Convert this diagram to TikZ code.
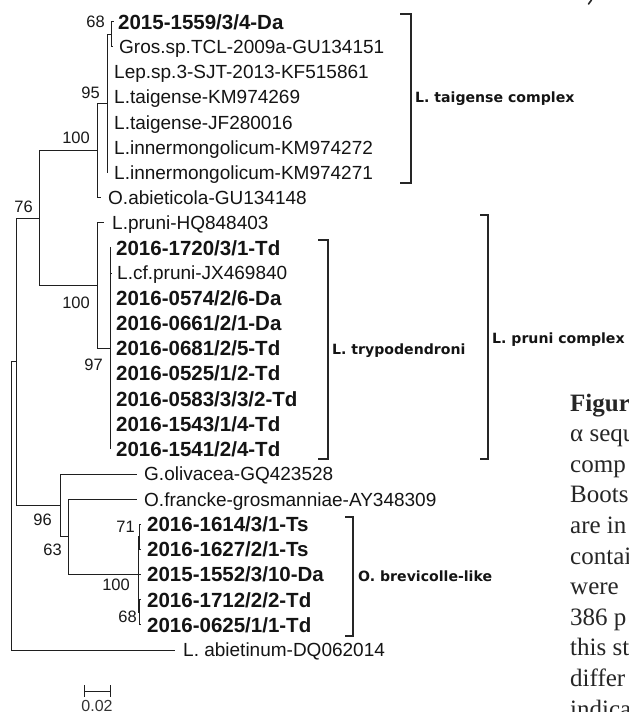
\documentclass[tikz,border=0pt]{standalone}
\usepackage{fontspec}
\setmainfont{Liberation Sans}
\newfontfamily\captionserif{Liberation Serif}
\newfontfamily\cladesans{DejaVu Sans}
\begin{document}
\begin{tikzpicture}[x=1pt,y=-1pt,
  twig/.style={line width=1pt, draw=black!88},
  cladebar/.style={line width=1.4pt, draw=black!85},
  taxon/.style={anchor=west, inner sep=0pt, text height=13.6pt, text depth=0pt,
    font=\fontsize{19}{19}\selectfont, text=black!92},
  taxonb/.style={anchor=west, inner sep=0pt, text height=14.7pt, text depth=0pt,
    font=\fontsize{20.5}{20.5}\selectfont\bfseries, text=black!92},
  bsval/.style={anchor=east, inner sep=0pt, text height=11.8pt, text depth=0pt,
    font=\fontsize{16.5}{16.5}\selectfont, text=black!90},
  cladename/.style={anchor=west, inner sep=0pt, text height=10.3pt, text depth=0pt,
    font=\cladesans\bfseries\fontsize{14.1}{14.1}\selectfont, text=black!92},
  captext/.style={anchor=base west, inner sep=0pt,
    font=\captionserif\fontsize{25}{25}\selectfont, text=black!85}
]
\useasboundingbox (0,0) rectangle (629,712);
\fill[white] (0,0) rectangle (629,712);

% ---------- internal nodes ----------
\coordinate (root)  at (11,505.9);
\coordinate (nA)    at (16,361.7);
\coordinate (n76)   at (39,218.0);
\coordinate (n100a) at (97,150.5);
\coordinate (n95)   at (107,103.4);
\coordinate (n68a)  at (111,34.25);
\coordinate (n100b) at (97,285.55);
\coordinate (n97)   at (110,348.4);
\coordinate (n96)   at (60,505.45);
\coordinate (n63)   at (68,536.9);
\coordinate (n100c) at (138,574.55);
\coordinate (n71)   at (139.5,536.85);
\coordinate (n68b)  at (139.5,612.25);

% ---------- branch ends of the taxa ----------
\coordinate (t0)  at (114,21.7);
\coordinate (t1)  at (113,46.8);
\coordinate (t2)  at (108,72.0);
\coordinate (t3)  at (108,97.1);
\coordinate (t4)  at (108,122.2);
\coordinate (t5)  at (108,147.4);
\coordinate (t6)  at (108,172.5);
\coordinate (t7)  at (101,197.6);
\coordinate (t8)  at (104,222.7);
\coordinate (t9)  at (111,247.9);
\coordinate (t10) at (112,273.0);
\coordinate (t11) at (111,298.1);
\coordinate (t12) at (111,323.3);
\coordinate (t13) at (111,348.4);
\coordinate (t14) at (111,373.5);
\coordinate (t15) at (111,398.7);
\coordinate (t16) at (111,423.8);
\coordinate (t17) at (111,448.9);
\coordinate (t18) at (137,474.0);
\coordinate (t19) at (137,499.2);
\coordinate (t20) at (141,524.3);
\coordinate (t21) at (141,549.4);
\coordinate (t22) at (141,574.6);
\coordinate (t23) at (141,599.7);
\coordinate (t24) at (141,624.8);
\coordinate (t25) at (175,650.0);

% ---------- taxon labels ----------
\node[taxonb] (l0)  at (118,21.7)  {2015-1559/3/4-Da};
\node[taxon]  (l1)  at (119,46.8)  {Gros.sp.TCL-2009a-GU134151};
\node[taxon]  (l2)  at (114,72.0)  {Lep.sp.3-SJT-2013-KF515861};
\node[taxon]  (l3)  at (114,97.1)  {L.taigense-KM974269};
\node[taxon]  (l4)  at (114,122.2) {L.taigense-JF280016};
\node[taxon]  (l5)  at (114,147.4) {L.innermongolicum-KM974272};
\node[taxon]  (l6)  at (114,172.5) {L.innermongolicum-KM974271};
\node[taxon]  (l7)  at (108,197.6) {O.abieticola-GU134148};
\node[taxon]  (l8)  at (112,222.7) {L.pruni-HQ848403};
\node[taxonb] (l9)  at (116,247.9) {2016-1720/3/1-Td};
\node[taxon]  (l10) at (117,273.0) {L.cf.pruni-JX469840};
\node[taxonb] (l11) at (116,298.1) {2016-0574/2/6-Da};
\node[taxonb] (l12) at (116,323.3) {2016-0661/2/1-Da};
\node[taxonb] (l13) at (116,348.4) {2016-0681/2/5-Td};
\node[taxonb] (l14) at (116,373.5) {2016-0525/1/2-Td};
\node[taxonb] (l15) at (116,398.7) {2016-0583/3/3/2-Td};
\node[taxonb] (l16) at (116,423.8) {2016-1543/1/4-Td};
\node[taxonb] (l17) at (116,448.9) {2016-1541/2/4-Td};
\node[taxon]  (l18) at (144,474.0) {G.olivacea-GQ423528};
\node[taxon]  (l19) at (144,499.2) {O.francke-grosmanniae-AY348309};
\node[taxonb] (l20) at (147,524.3) {2016-1614/3/1-Ts};
\node[taxonb] (l21) at (147,549.4) {2016-1627/2/1-Ts};
\node[taxonb] (l22) at (147,574.6) {2015-1552/3/10-Da};
\node[taxonb] (l23) at (147,599.7) {2016-1712/2/2-Td};
\node[taxonb] (l24) at (147,624.8) {2016-0625/1/1-Td};
\node[taxon]  (l25) at (183,650.0) {L. abietinum-DQ062014};

% ---------- branches ----------
\draw[twig] (root) |- (nA);
\draw[twig] (root) |- (t25);
\draw[twig] (nA) |- (n76);
\draw[twig] (nA) |- (n96);
\draw[twig] (n76) |- (n100a);
\draw[twig] (n76) |- (n100b);
\draw[twig] (n100a) |- (n95);
\draw[twig] (n100a) |- (t7);
\draw[twig] (n95) |- (n68a);
\draw[twig] (n68a) |- (t0);
\draw[twig] (n68a) |- (t1);
\foreach \k in {2,...,6} { \draw[twig] (n95) |- (t\k); }
\draw[twig] (n100b) |- (t8);
\draw[twig] (n100b) |- (n97);
\foreach \k in {9,...,17} { \draw[twig] (n97) |- (t\k); }
\draw[twig] (n96) |- (t18);
\draw[twig] (n96) |- (n63);
\draw[twig] (n63) |- (t19);
\draw[twig] (n63) |- (n100c);
\draw[twig] (n100c) |- (n71);
\draw[twig] (n100c) |- (t22);
\draw[twig] (n100c) |- (n68b);
\draw[twig] (n71) |- (t20);
\draw[twig] (n71) |- (t21);
\draw[twig] (n68b) |- (t23);
\draw[twig] (n68b) |- (t24);

% ---------- bootstrap values ----------
\node[bsval] (b68a)  at (105,22)  {68};
\node[bsval] (b95)   at (100,93)  {95};
\node[bsval] (b100a) at (90,138)  {100};
\node[bsval] (b76)   at (33,207)  {76};
\node[bsval] (b100b) at (90,303)  {100};
\node[bsval] (b97)   at (103,365) {97};
\node[bsval] (b96)   at (52,520)  {96};
\node[bsval] (b63)   at (62,550)  {63};
\node[bsval] (b71)   at (135,527) {71};
\node[bsval] (b100c) at (130,585) {100};
\node[bsval] (b68b)  at (137,617) {68};

% ---------- clade brackets ----------
\draw[cladebar] (400,14) -- (411,14) -- (411,183) -- (400,183);
\draw[cladebar] (318,240) -- (328,240) -- (328,459) -- (318,459);
\draw[cladebar] (480,215) -- (488,215) -- (488,459) -- (480,459);
\draw[cladebar] (345,517) -- (353,517) -- (353,636) -- (345,636);
\node[cladename] (cT) at (415,97)  {L. taigense complex};
\node[cladename] (cY) at (332,349) {L. trypodendroni};
\node[cladename] (cP) at (492,338) {L. pruni complex};
\node[cladename] (cB) at (358,576) {O. brevicolle-like};

% ---------- scale bar ----------
\draw[twig] (84,691) -- (110,691);
\draw[twig] (84,685) -- (84,697);
\draw[twig] (110,685) -- (110,697);
\node[anchor=north, inner sep=0pt, text height=11.5pt, text depth=0pt,
  font=\fontsize{16}{16}\selectfont, text=black!80] (sc) at (97,699.5) {0.02};

% ---------- caption column at the right edge ----------
\begin{scope}
\clip (0,0) rectangle (629,712);
\node[captext, font=\captionserif\bfseries\fontsize{25}{25}\selectfont] (f0) at (570,411) {Figur};
\node[captext] (f1)  at (570,441.6) {α sequ};
\node[captext] (f2)  at (570,472.2) {comp};
\node[captext] (f3)  at (570,502.8) {Boots};
\node[captext] (f4)  at (570,533.4) {are in};
\node[captext] (f5)  at (570,564.0) {contai};
\node[captext] (f6)  at (570,594.6) {were};
\node[captext] (f7)  at (570,625.2) {386 p};
\node[captext] (f8)  at (570,655.8) {this st};
\node[captext] (f9)  at (570,686.4) {differ};
\node[captext] (f10) at (570,717.0) {indica};
\draw[line width=1.6pt, line cap=round, draw=black!85] (591.5,0) -- (588.5,4);
\end{scope}
\end{tikzpicture}
\end{document}
